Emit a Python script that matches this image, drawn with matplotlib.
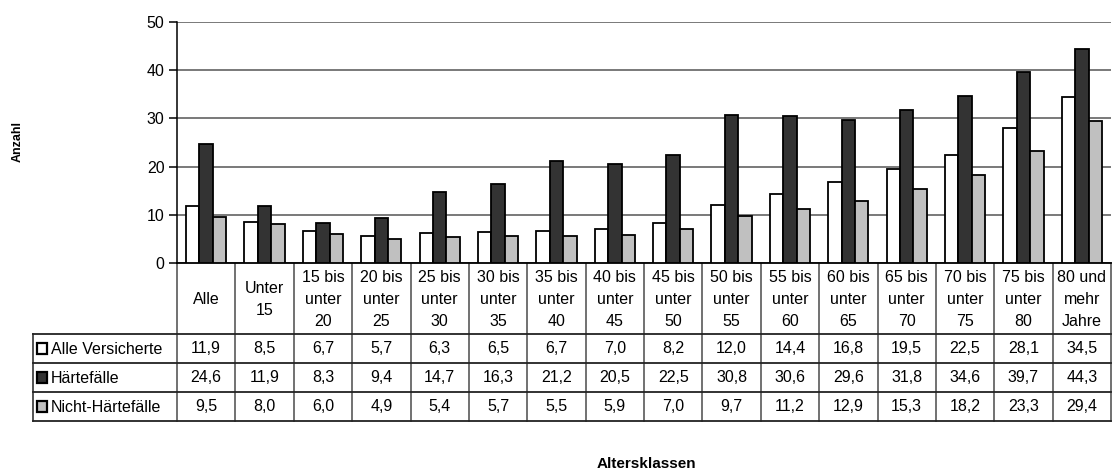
import numpy as np
import matplotlib.pyplot as plt
from matplotlib.patches import Rectangle
from matplotlib.transforms import blended_transform_factory

# Daten: Altersklassen und Werte der drei Gruppen
categories = ['Alle', 'Unter\n15', '15 bis\nunter\n20', '20 bis\nunter\n25', '25 bis\nunter\n30',
              '30 bis\nunter\n35', '35 bis\nunter\n40', '40 bis\nunter\n45', '45 bis\nunter\n50',
              '50 bis\nunter\n55', '55 bis\nunter\n60', '60 bis\nunter\n65', '65 bis\nunter\n70',
              '70 bis\nunter\n75', '75 bis\nunter\n80', '80 und\nmehr\nJahre']
alle_versicherte = [11.9, 8.5, 6.7, 5.7, 6.3, 6.5, 6.7, 7.0, 8.2, 12.0, 14.4, 16.8, 19.5, 22.5, 28.1, 34.5]
haertefaelle = [24.6, 11.9, 8.3, 9.4, 14.7, 16.3, 21.2, 20.5, 22.5, 30.8, 30.6, 29.6, 31.8, 34.6, 39.7, 44.3]
nicht_haertefaelle = [9.5, 8.0, 6.0, 4.9, 5.4, 5.7, 5.5, 5.9, 7.0, 9.7, 11.2, 12.9, 15.3, 18.2, 23.3, 29.4]
series_names = ['Alle Versicherte', 'Härtefälle', 'Nicht-Härtefälle']
series = [alle_versicherte, haertefaelle, nicht_haertefaelle]
colors = ['white', '#333333', '#c0c0c0']

plt.rcParams['font.family'] = ['Liberation Sans', 'DejaVu Sans']

W, H = 1112, 471
fig = plt.figure(figsize=(W / 100, H / 100), dpi=100)


def box(x0, y0, x1, y1):
    # Pixelbox -> Figurenanteile
    return [x0 / W, 1 - y1 / H, (x1 - x0) / W, (y1 - y0) / H]


ax = fig.add_axes(box(177, 22, 1111, 263))
x = np.arange(len(categories))
w = 0.23
for k, (vals, c) in enumerate(zip(series, colors)):
    ax.bar(x + (k - 1) * w, vals, w, color=c, edgecolor='black', linewidth=1.3, zorder=3)

ax.set_xlim(-0.5, len(categories) - 0.5)
ax.set_ylim(0, 50)
ax.set_yticks(range(0, 51, 10))
ax.set_xticks([])
ax.yaxis.grid(True, color='#555555', linewidth=1.1, zorder=0)
for s in ['top', 'right']:
    ax.spines[s].set_visible(False)
ax.spines['left'].set_linewidth(1.1)
ax.spines['bottom'].set_linewidth(1.3)
ax.tick_params(axis='y', length=6, width=1.1, direction='out', labelsize=11.5, pad=3)

# Tabelle unter dem Diagramm
tb = fig.add_axes([0, 0, 1, 1])
tb.set_xlim(0, W)
tb.set_ylim(H, 0)
tb.axis('off')
tb.set_zorder(-1)
bt = blended_transform_factory(ax.transData, tb.transData)

top, hdr = 263, 334
rows = [334, 363, 392, 421]
left = 33

for i in range(len(categories) + 1):
    tb.plot([i - 0.5, i - 0.5], [top, rows[-1]], color='#666666', lw=1.3, transform=bt, clip_on=False)
tb.plot([left, left], [rows[0], rows[-1]], color='#444444', lw=1.3)
for y in rows:
    tb.plot([left, 1111], [y, y], color='#222222', lw=1.3)

for i, lab in enumerate(categories):
    tb.text(i, (top + hdr) / 2 + 1, lab, ha='center', va='center', fontsize=11.5,
            linespacing=1.58, transform=bt)

for r, (name, vals, c) in enumerate(zip(series_names, series, colors)):
    yc = (rows[r] + rows[r + 1]) / 2
    tb.add_patch(Rectangle((37, yc - 5.5), 10, 11, facecolor=c, edgecolor='black', lw=1.6))
    tb.text(51, yc + 1, name, ha='left', va='center', fontsize=11.5)
    for i, v in enumerate(vals):
        tb.text(i, yc, f'{v:.1f}'.replace('.', ','), ha='center', va='center', fontsize=11.5, transform=bt)

tb.text(18, 142, 'Anzahl', rotation=90, ha='center', va='center', fontsize=9, fontweight='bold')
tb.text(646, 464, 'Altersklassen', ha='center', va='center', fontsize=11, fontweight='bold')

fig.savefig('out.png', dpi=100)
